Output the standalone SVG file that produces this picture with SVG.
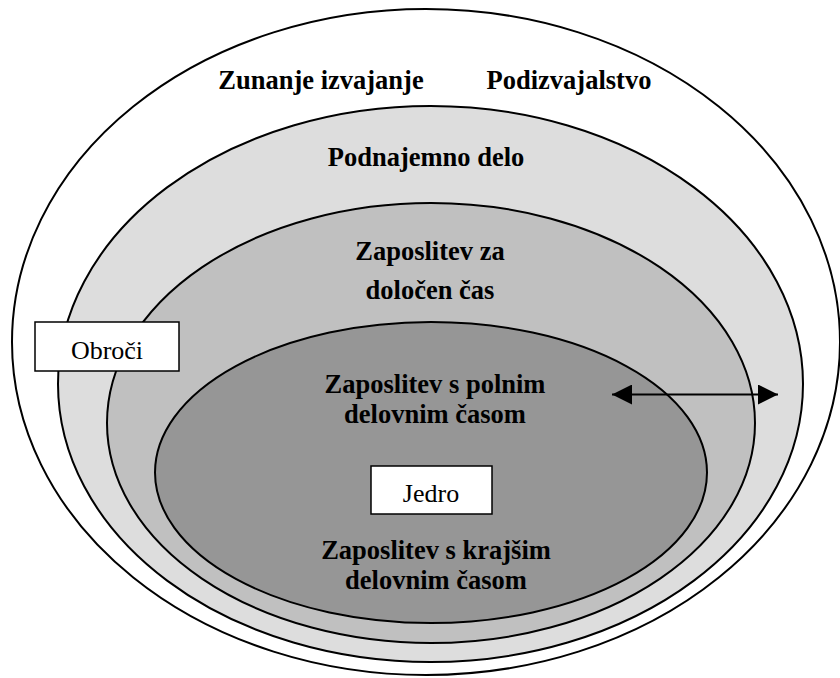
<svg xmlns="http://www.w3.org/2000/svg" width="840" height="678" viewBox="0 0 840 678">
<defs>
<style>
.ring{stroke:#000;stroke-width:2}
.b{font-family:"Liberation Serif","Times New Roman",serif;font-weight:bold;font-size:26.5px;text-anchor:middle;fill:#000}
.r{font-family:"Liberation Serif","Times New Roman",serif;font-size:26px;text-anchor:middle;fill:#000}
.box{fill:#fff;stroke:#000;stroke-width:1.5}
</style>
<marker id="ah" viewBox="0 0 20 20" refX="20" refY="10" markerWidth="20" markerHeight="20" markerUnits="userSpaceOnUse" orient="auto-start-reverse">
<path d="M0,0 L20,10 L0,20 Z" fill="#000"/>
</marker>
</defs>
<rect width="840" height="678" fill="#fff"/>
<g id="outer">
<ellipse class="ring" cx="426" cy="342" rx="414" ry="333" fill="#fff"/>
<text class="b" x="321" y="89">Zunanje izvajanje</text>
<text class="b" x="569" y="89">Podizvajalstvo</text>
</g>
<g id="podnajemno">
<ellipse class="ring" cx="430.5" cy="384" rx="372.5" ry="278" fill="#dddddd"/>
<text class="b" x="426" y="166">Podnajemno delo</text>
</g>
<g id="dolocen">
<ellipse class="ring" cx="431" cy="423" rx="324" ry="220" fill="#c0c0c0"/>
<text class="b" x="430" y="260">Zaposlitev za</text>
<text class="b" x="430" y="299">določen čas</text>
</g>
<g id="jedro-ring">
<ellipse class="ring" cx="431" cy="472.5" rx="276" ry="150.5" fill="#969696"/>
<text class="b" x="435" y="393">Zaposlitev s polnim</text>
<text class="b" x="435" y="423">delovnim časom</text>
<text class="b" x="436" y="559">Zaposlitev s krajšim</text>
<text class="b" x="436" y="589">delovnim časom</text>
</g>
<g id="obroci">
<rect class="box" x="35" y="322" width="144" height="49"/>
<text class="r" x="107" y="359">Obroči</text>
</g>
<g id="jedro">
<rect class="box" x="371" y="466" width="121" height="48"/>
<text class="r" x="431" y="502">Jedro</text>
</g>
<g id="connectors">
<line x1="612" y1="394.5" x2="778" y2="394.5" stroke="#000" stroke-width="2" marker-start="url(#ah)" marker-end="url(#ah)"/>
</g>
</svg>
